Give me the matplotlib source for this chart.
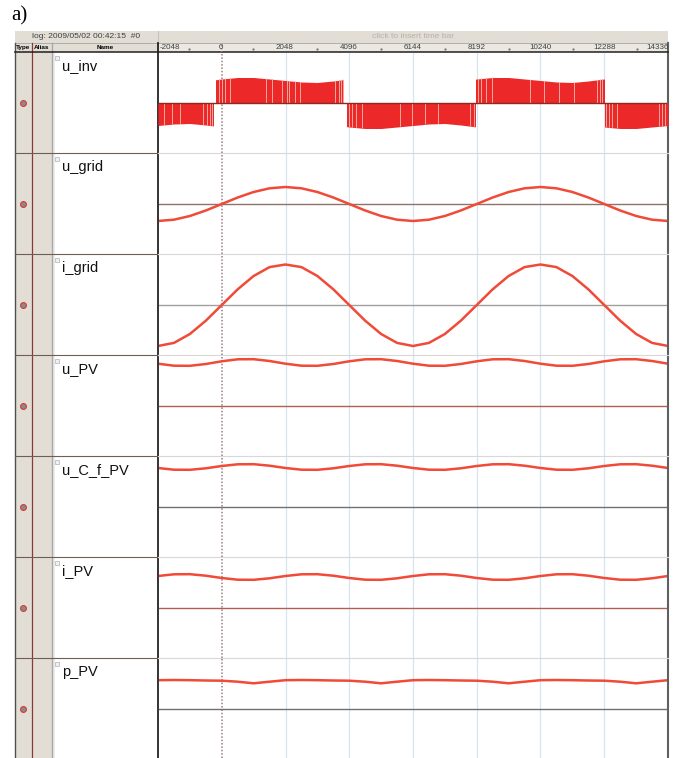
import numpy as np
import matplotlib.pyplot as plt
from matplotlib.patches import Rectangle

plt.rcParams['font.family'] = ['Liberation Sans', 'DejaVu Sans']

W, H = 676, 758

# samples every 512 ticks
t = np.arange(-2048, 14337, 512)

names = ['u_inv', 'u_grid', 'i_grid', 'u_PV', 'u_C_f_PV', 'i_PV', 'p_PV']
tick_vals = [-2048, 0, 2048, 4096, 6144, 8192, 10240, 12288, 14336]
grid_vals = [2048, 4096, 6144, 8192, 10240, 12288]

# inverter output: envelope magnitude and on-intervals (start, end, sign)
inv_mag = [22.5, 21.0, 20.5, 22.0, 24.0, 25.5, 25.5, 24.0,
           22.5, 21.0, 20.5, 22.0, 24.0, 25.5, 25.5, 24.0,
           22.5, 21.0, 20.5, 22.0, 24.0, 25.5, 25.5, 24.0,
           22.5, 21.0, 20.5, 22.0, 24.0, 25.5, 25.5, 24.0, 22.5]
inv_blocks = [(-2100, -270, -1), (-180, 3910, 1), (4030, 8120, -1),
              (8170, 12280, 1), (12310, 14400, -1)]
inv_gaps = [-1866, -1610, -1334, -618, -480, -374, -298,
            -86, 22, 96, 256, 1408, 1622, 1942, 2102, 2154, 2368, 2528,
            3648, 3754, 3830, 3894,
            4096, 4192, 4320, 4512, 5728, 6112, 6528, 6944, 7968, 8096,
            8224, 8320, 8480, 8672, 9888, 10368, 10848, 11328, 12064, 12160, 12224,
            12352, 12448, 12544, 12704, 14048, 14144, 14240]

u_grid = [-17, -15.7, -12, -6.5, 0, 6.5, 12, 15.7, 17, 15.7, 12, 6.5, 0,
          -6.5, -12, -15.7, -17, -15.7, -12, -6.5, 0, 6.5, 12, 15.7, 17,
          15.7, 12, 6.5, 0, -6.5, -12, -15.7, -17]
i_grid = [-41, -37.9, -29, -15.7, 0, 15.7, 29, 37.9, 40.5, 37.9, 29, 15.7, 0,
          -15.7, -29, -37.9, -41, -37.9, -29, -15.7, 0, 15.7, 29, 37.9, 40.5,
          37.9, 29, 15.7, 0, -15.7, -29, -37.9, -41]
u_pv = [42.3, 40.3, 40.2, 42.0, 44.7, 46.7, 46.8, 45.0,
        42.3, 40.3, 40.2, 42.0, 44.7, 46.7, 46.8, 45.0,
        42.3, 40.3, 40.2, 42.0, 44.7, 46.7, 46.8, 45.0,
        42.3, 40.3, 40.2, 42.0, 44.7, 46.7, 46.8, 45.0, 42.3]
u_cf_pv = [39.0, 37.3, 37.2, 38.7, 41.0, 42.7, 42.8, 41.3,
           39.0, 37.3, 37.2, 38.7, 41.0, 42.7, 42.8, 41.3,
           39.0, 37.3, 37.2, 38.7, 41.0, 42.7, 42.8, 41.3,
           39.0, 37.3, 37.2, 38.7, 41.0, 42.7, 42.8, 41.3, 39.0]
i_pv = [32.0, 33.7, 33.8, 32.3, 30.0, 28.3, 28.2, 29.7,
        32.0, 33.7, 33.8, 32.3, 30.0, 28.3, 28.2, 29.7,
        32.0, 33.7, 33.8, 32.3, 30.0, 28.3, 28.2, 29.7,
        32.0, 33.7, 33.8, 32.3, 30.0, 28.3, 28.2, 29.7, 32.0]
p_pv = [28.3, 28.5, 28.3, 28.0, 27.8, 26.8, 25.2, 26.8,
        28.3, 28.5, 28.3, 28.0, 27.8, 26.8, 25.2, 26.8,
        28.3, 28.5, 28.3, 28.0, 27.8, 26.8, 25.2, 26.8,
        28.3, 28.5, 28.3, 28.0, 27.8, 26.8, 25.2, 26.8, 28.3]

curves = [None, u_grid, i_grid, u_pv, u_cf_pv, i_pv, p_pv]
zero_colors = ['#8a2a20', '#8c7468', '#a0a0a0', '#b06050', '#707070', '#b06050', '#707070']

rows = [52, 153, 254, 355, 456, 557, 658, 758]
x_left, x_right = 158, 668
t_left, t_right = -2016, 14304
bg = '#e2ded6'
curve_col = '#f04a38'


def fbox(x0, y0, x1, y1):
    return [x0 / W, 1 - y1 / H, (x1 - x0) / W, (y1 - y0) / H]


fig = plt.figure(figsize=(W / 100, H / 100), dpi=100)

# pixel overlay for the frame, header and name column
ax0 = fig.add_axes([0, 0, 1, 1])
ax0.set_xlim(0, W)
ax0.set_ylim(H, 0)
ax0.axis('off')

ax0.text(11, 16, 'a)', fontsize=15, family='Liberation Serif', va='center', ha='left')

ax0.add_patch(Rectangle((15, 31), x_right - 15, 12, color=bg, lw=0))
ax0.add_patch(Rectangle((15, 43), x_left - 15, 9, color=bg, lw=0))
ax0.add_patch(Rectangle((x_left, 43), x_right - x_left, 9, color='#ebe8e2', lw=0))
ax0.add_patch(Rectangle((15, 52), 37, H - 52, color=bg, lw=0))
ax0.add_patch(Rectangle((52, 52), 3, H - 52, color='#ececec', lw=0))
ax0.text(86, 37, 'log: 2009/05/02 00:42:15  #0', fontsize=6, color='#404040',
         ha='center', va='center')
ax0.text(413, 37, 'click to insert time bar', fontsize=6, color='#b5b0aa',
         ha='center', va='center')
ax0.text(23.5, 47.8, 'Type', fontsize=4.6, weight='bold', ha='center', va='center')
ax0.text(42, 47.8, 'Alias', fontsize=4.6, weight='bold', ha='center', va='center')
ax0.text(105, 47.8, 'Name', fontsize=4.6, weight='bold', ha='center', va='center')

ax0.plot([x_left, x_left], [31, 43], color='#c8c4bc', lw=0.8)
ax0.plot([15, x_right], [43, 43], color='#a8a49c', lw=0.6)
ax0.plot([15, 15], [43, H], color='#505050', lw=1.0)
ax0.plot([32, 32], [43, H], color='#8a3a30', lw=0.9)
ax0.plot([52, 52], [43, H], color='#a8a8a8', lw=1.0)
ax0.plot([x_left, x_left], [43, H], color='#101010', lw=1.2)
ax0.plot([x_right, x_right], [43, H], color='#606060', lw=1.5)
ax0.plot([15, x_right], [52, 52], color='#202020', lw=1.1)

for i, name in enumerate(names):
    top, bot = rows[i], rows[i + 1]
    if i > 0:
        ax0.plot([15, x_left], [top, top], color='#6e5e56', lw=0.8)
        ax0.plot([x_left, x_right], [top, top], color='#d8d8d8', lw=0.8)
    mid = (top + bot) / 2
    ax0.plot(22.5, mid + 0.5, marker='o', ms=4.2, color='#8a8a8a', mec='#d83a30', mew=0.8)
    ax0.plot(57, top + 6, marker='s', ms=2.6, mfc='#f0f0f0', mec='#a0a0a0', mew=0.4)
    ax0.text(62, top + 18, name, fontsize=10.5, ha='left', va='baseline', color='#101010')

# tick row
hax = fig.add_axes(fbox(x_left, 43, x_right, 52))
hax.set_xlim(t_left, t_right)
hax.set_ylim(0, 1)
hax.axis('off')
for k, v in enumerate(tick_vals):
    if k == 0:
        hax.text(t_left + 40, 0.55, str(v), fontsize=5.8, color='#404040', ha='left',
                 va='center', clip_on=False)
    elif k == len(tick_vals) - 1:
        hax.text(v, 0.55, str(v), fontsize=5.8, color='#404040', ha='right',
                 va='center', clip_on=False)
    else:
        hax.text(v, 0.55, str(v), fontsize=5.8, color='#404040', ha='center',
                 va='center', clip_on=False)
hax.plot([v + 1024 for v in tick_vals[:-1]], [0.3] * (len(tick_vals) - 1), ls='none',
         marker='.', ms=1.2, color='#707070')
hax.axvline(0, color='#9a8080', lw=1.0, ls=(0, (1, 1.2)))

# signal panels
for i, name in enumerate(names):
    top, bot = rows[i], rows[i + 1]
    ax = fig.add_axes(fbox(x_left + 1, top + 1, x_right - 1, bot))
    half = (bot - top - 1) / 2
    ax.set_xlim(t_left, t_right)
    ax.set_ylim(-half, half)
    ax.axis('off')
    for g in grid_vals:
        ax.axvline(g, color='#d6e4ee', lw=0.9, zorder=1)
    ax.axvline(0, color='#9a8080', lw=1.1, ls=(0, (1, 1.2)), zorder=1)

    if name == 'u_inv':
        for (a, b, s) in inv_blocks:
            poly = ax.fill_between(t, 0, s * np.array(inv_mag), color='#ec2828', lw=0, zorder=2)
            clip = Rectangle((a, -half), b - a, 2 * half, transform=ax.transData)
            poly.set_clip_path(clip)
            gaps = [g for g in inv_gaps if a <= g <= b]
            vl = ax.vlines(gaps, 0, s * 30, color='#f6a8a0', lw=0.7, zorder=3)
            vl.set_clip_path(poly.get_paths()[0], ax.transData)
        ax.axhline(0, color=zero_colors[i], lw=1.0, zorder=4)
    else:
        ax.axhline(0, color=zero_colors[i], lw=1.0, zorder=2)
        ax.plot(t, curves[i], color=curve_col, lw=1.8, zorder=3, solid_capstyle='round')

fig.savefig('out.png', dpi=100)
